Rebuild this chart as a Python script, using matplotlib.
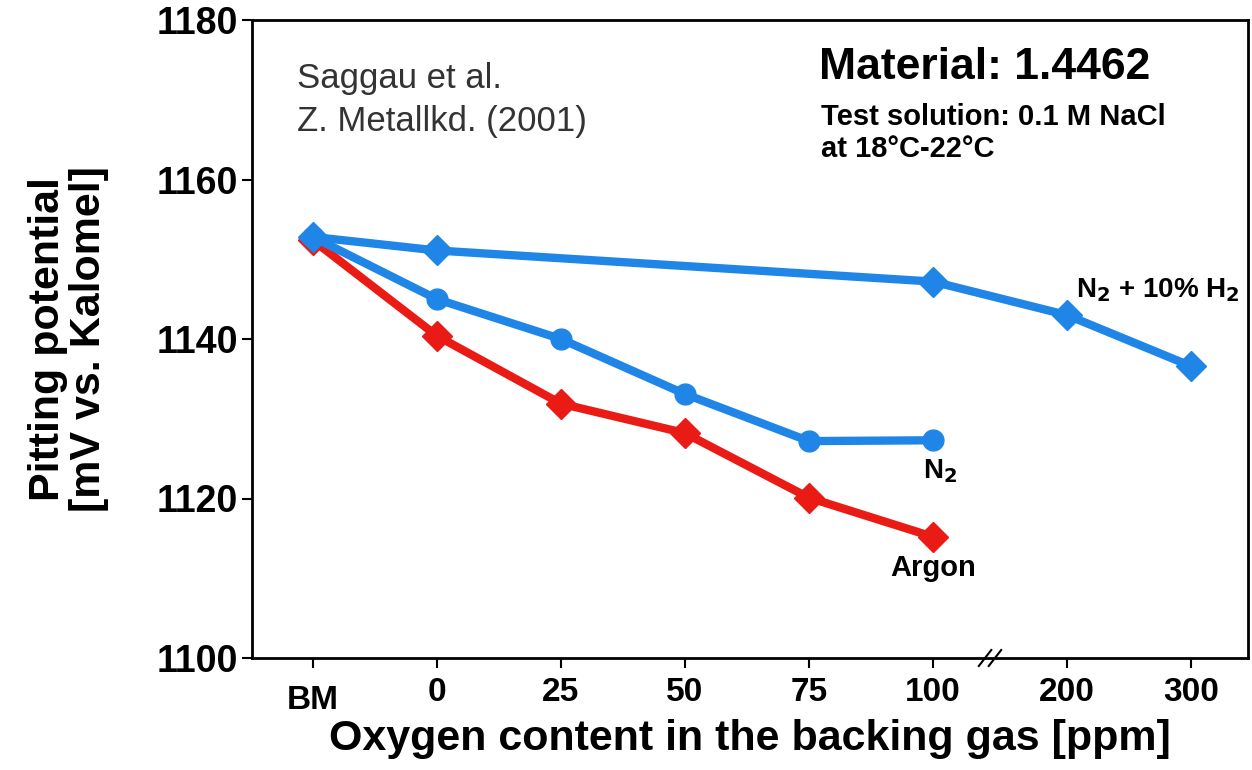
import numpy as np
import matplotlib.pyplot as plt

plt.rcParams['font.family'] = ['Liberation Sans', 'DejaVu Sans']

# x categories (BM = base material, then oxygen content in ppm)
x_labels = ['BM', '0', '25', '50', '75', '100', '200', '300']
x_pos = [0, 1, 2, 3, 4, 5, 6.08, 7.08]

# series values [mV vs. Kalomel]
h2_x = [0, 1, 5, 6.08, 7.08]
h2_y = [1152.8, 1151.1, 1147.2, 1143.0, 1136.6]

n2_x = [0, 1, 2, 3, 4, 5]
n2_y = [1152.8, 1145.0, 1140.0, 1133.1, 1127.2, 1127.3]

ar_x = [0, 1, 2, 3, 4, 5]
ar_y = [1152.4, 1140.4, 1131.9, 1128.2, 1120.1, 1115.2]

blue = '#1f86e8'
red = '#ea1a14'

fig = plt.figure(figsize=(12.52, 7.70), dpi=100)
ax = fig.add_axes([252 / 1252, 1 - 658 / 770, (1248 - 252) / 1252, (658 - 20) / 770])

ax.plot(h2_x, h2_y, color=blue, lw=6, marker='D', ms=15, zorder=3)
ax.plot(n2_x, n2_y, color=blue, lw=6, marker='o', ms=15, zorder=3)
ax.plot(ar_x, ar_y, color=red, lw=6, marker='D', ms=15, zorder=2)

ax.set_xlim(-0.49, 7.54)
ax.set_ylim(1100, 1180)
ax.set_yticks([1100, 1120, 1140, 1160, 1180])
ax.set_xticks(x_pos)
ax.set_xticklabels(x_labels)
ax.tick_params(axis='y', labelsize=27, width=1.5, length=7, pad=3)
ax.tick_params(axis='x', labelsize=24, width=1.5, length=7, pad=7)
for lbl in ax.get_xticklabels() + ax.get_yticklabels():
    lbl.set_fontweight('bold')
ax.get_xticklabels()[0].set_y(-0.012)

for s in ax.spines.values():
    s.set_linewidth(2)

# axis break mark
bx = 5.46
for dx in (-0.04, 0.04):
    ax.plot([bx + dx - 0.05, bx + dx + 0.05], [1099.0, 1101.0], color='black',
            lw=1.5, clip_on=False, zorder=5)

ax.set_xlabel('Oxygen content in the backing gas [ppm]', fontsize=31,
              fontweight='bold', labelpad=2)
ax.set_ylabel('Pitting potential\n[mV vs. Kalomel]', fontsize=31,
              fontweight='bold', labelpad=34, linespacing=1.05)

ax.text(-0.13, 1170.0, 'Saggau et al.\nZ. Metallkd. (2001)', fontsize=25,
        color='#333333', va='center', linespacing=1.4)
ax.text(4.08, 1174.1, 'Material: 1.4462', fontsize=32, fontweight='bold', va='center')
ax.text(4.1, 1165.8, 'Test solution: 0.1 M NaCl\nat 18°C-22°C', fontsize=21,
        fontweight='bold', va='center', linespacing=1.2)

ax.text(6.15, 1146.1, r'N$_\mathbf{2}$ + 10% H$_\mathbf{2}$', fontsize=20,
        fontweight='bold', va='center')
ax.text(5.06, 1123.4, r'N$_\mathbf{2}$', fontsize=20, fontweight='bold',
        va='center', ha='center')
ax.text(5.0, 1111.3, 'Argon', fontsize=21, fontweight='bold', va='center', ha='center')

fig.savefig('out.png', dpi=100)
